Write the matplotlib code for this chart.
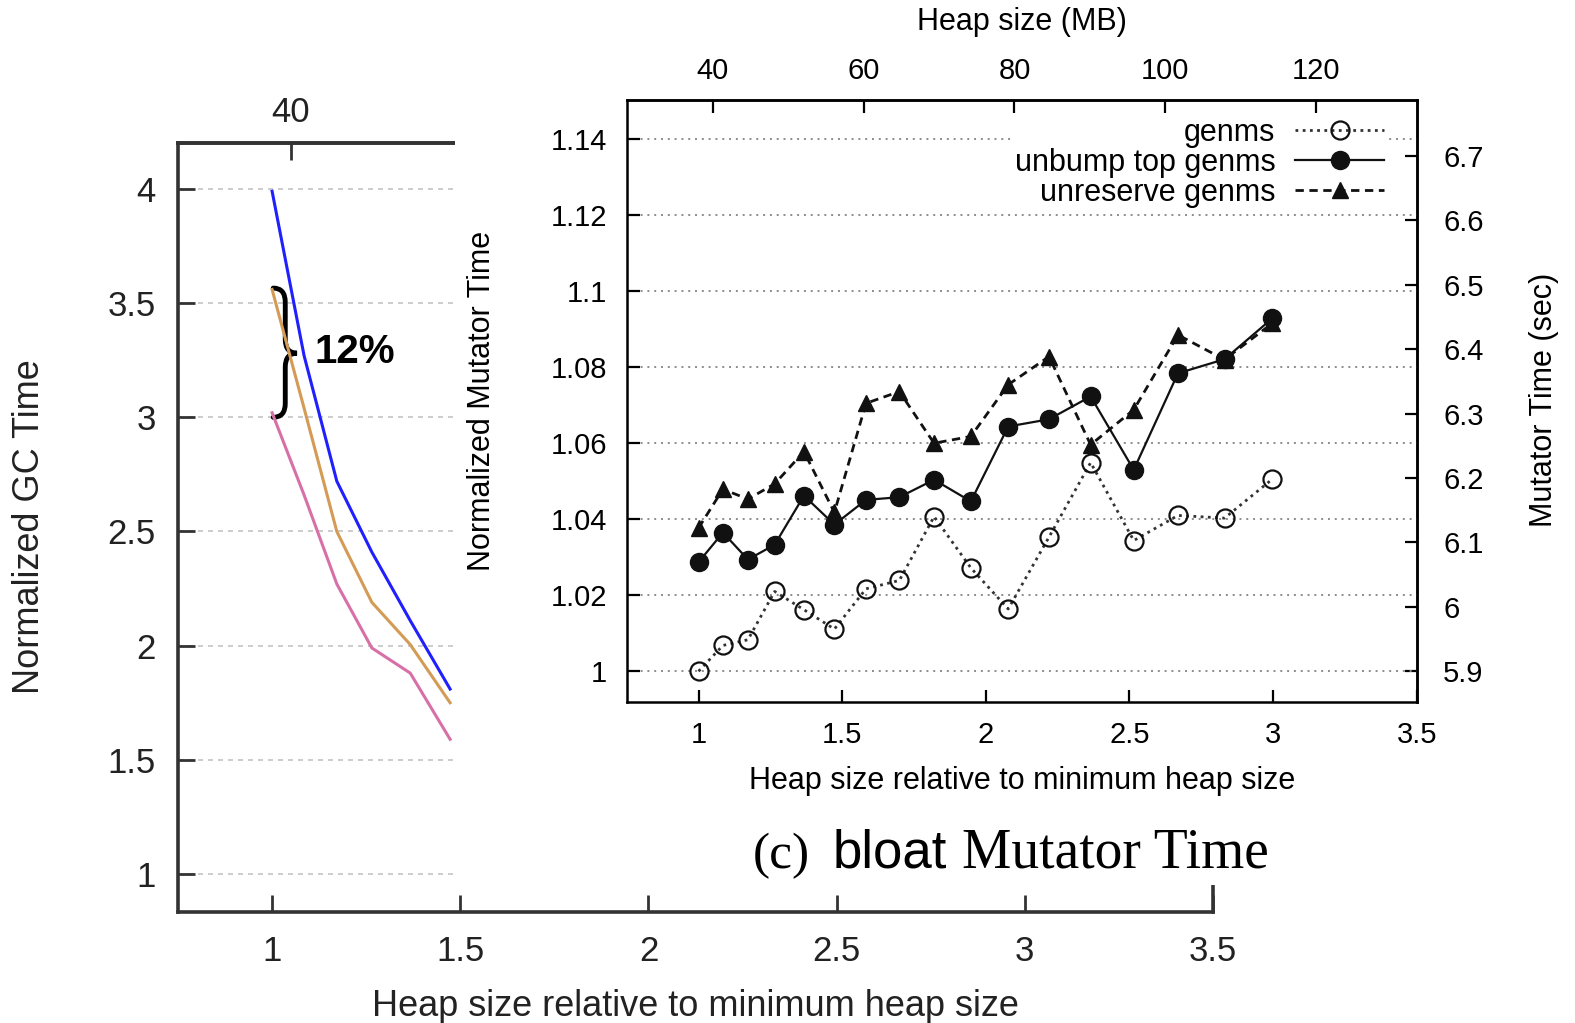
import matplotlib
matplotlib.use("Agg")
import matplotlib.pyplot as plt
from matplotlib.patches import Rectangle, PathPatch
from matplotlib.path import Path
from matplotlib.ticker import FormatStrFormatter

# heap size relative to the minimum heap size (same sample points in both charts)
heap_rel = [1.0, 1.085, 1.172, 1.265, 1.367, 1.473, 1.583, 1.699, 1.82, 1.948,
            2.078, 2.22, 2.365, 2.515, 2.669, 2.831, 2.998]

# inset chart: normalized mutator time
genms = [1.0, 1.0068, 1.0083, 1.021, 1.0162, 1.0111, 1.0217, 1.0239, 1.0407,
         1.0272, 1.0164, 1.0353, 1.0549, 1.0344, 1.041, 1.0403, 1.0506]
unbump = [1.0287, 1.0365, 1.0294, 1.0333, 1.0462, 1.0386, 1.0451, 1.0458, 1.0504,
          1.0447, 1.0644, 1.0663, 1.0723, 1.053, 1.0784, 1.0821, 1.0929]
unreserve = [1.0377, 1.0479, 1.0453, 1.0493, 1.0578, 1.0418, 1.0705, 1.0736, 1.06,
             1.0618, 1.0754, 1.0828, 1.0596, 1.0688, 1.0885, 1.082, 1.0916]
series_labels = ["genms", "unbump top genms", "unreserve genms"]

# background chart: normalized GC time (only the part left of the inset is visible)
gc_x = heap_rel[:6]
gc_blue = [3.99, 3.27, 2.72, 2.41, 2.11, 1.81]
gc_orange = [3.56, 3.04, 2.50, 2.19, 2.005, 1.75]
gc_pink = [3.02, 2.66, 2.27, 1.99, 1.88, 1.59]

min_heap_mb = 38.1      # 1.0 on the relative axis, in MB
base_mutator_sec = 5.9  # 1.0 on the normalized axis, in seconds

W, H = 1575, 1023


def fx(px):
    return px / W


def fy(py):
    return 1 - py / H


fig = plt.figure(figsize=(W / 100, H / 100), dpi=100)
plt.rcParams['font.family'] = ['Liberation Sans', 'DejaVu Sans']

# ---------------- background GC chart ----------------
ax_bg = fig.add_axes([fx(178), fy(911.7), (1213 - 178) / W, (911.7 - 143.3) / H])
ax_bg.plot(gc_x, gc_blue, color='#2020ff', lw=2.2)
ax_bg.plot(gc_x, gc_orange, color='#d39b55', lw=2.2)
ax_bg.plot(gc_x, gc_pink, color='#d870a8', lw=2.2)
ax_bg.set_xlim(0.75, 3.5)
ax_bg.set_ylim(0.835, 4.2)
ax_bg.set_xticks([1, 1.5, 2, 2.5, 3, 3.5])
ax_bg.set_yticks([1, 1.5, 2, 2.5, 3, 3.5, 4])
ax_bg.xaxis.set_major_formatter(FormatStrFormatter('%g'))
ax_bg.yaxis.set_major_formatter(FormatStrFormatter('%g'))
ax_bg.yaxis.grid(True, color='#c4c4c4', ls=(0, (3, 3)), lw=1.2)
ax_bg.set_axisbelow(True)
for s in ax_bg.spines.values():
    s.set_linewidth(2.6)
    s.set_color('#333333')
ax_bg.tick_params(direction='in', length=12, width=2, color='#333333',
                  labelsize=25, labelcolor='#222222')
ax_bg.tick_params(axis='y', pad=16)
ax_bg.tick_params(axis='x', pad=17)
top_bg = ax_bg.secondary_xaxis('top', functions=(lambda r: r * min_heap_mb,
                                                 lambda m: m / min_heap_mb))
top_bg.set_xticks([40])
top_bg.tick_params(direction='in', length=12, width=2, color='#333333',
                   labelsize=25, labelcolor='#222222', pad=10)
top_bg.spines['top'].set_linewidth(2.6)
top_bg.spines['top'].set_color('#333333')

fig.text(fx(30), fy(527), "Normalized GC Time", rotation=90, fontsize=26,
         ha='center', va='center', color='#222222')
fig.text(fx(695), fy(1006), "Heap size relative to minimum heap size", fontsize=26,
         ha='center', va='center', color='#222222')

# brace marking the 12% gap between the curves
brace = Path([(1.003, 3.566), (1.035, 3.566), (1.035, 3.504), (1.035, 3.342),
              (1.035, 3.281), (1.066, 3.281), (1.035, 3.281), (1.035, 3.219),
              (1.035, 3.061), (1.035, 3.0), (1.003, 3.0)],
             [Path.MOVETO, Path.CURVE3, Path.CURVE3, Path.LINETO,
              Path.CURVE3, Path.CURVE3, Path.CURVE3, Path.CURVE3,
              Path.LINETO, Path.CURVE3, Path.CURVE3])
ax_bg.add_patch(PathPatch(brace, fill=False, lw=3.5, ec='black', capstyle='round'))
ax_bg.text(1.114, 3.285, "12%", fontsize=29, fontweight='bold', ha='left', va='center')

# white backing of the pasted inset
fig.add_artist(Rectangle((fx(455), fy(885)), 1 - fx(455), 1 - fy(885),
                         transform=fig.transFigure, facecolor='white',
                         edgecolor='none', zorder=1))

# ---------------- inset mutator chart ----------------
ax = fig.add_axes([fx(626.7), fy(701.7), (1416.7 - 626.7) / W, (701.7 - 100) / H])
ax.set_zorder(2)
ax.plot(heap_rel, genms, ls=(0, (1, 1.6)), lw=2, color='#333333', marker='o', ms=13,
        mfc='none', mec='#111111', mew=1.6, label=series_labels[0])
ax.plot(heap_rel, unbump, ls='-', lw=1.6, color='#111111', marker='o', ms=13,
        mfc='#111111', mec='#111111', label=series_labels[1])
ax.plot(heap_rel, unreserve, ls=(0, (3, 2)), lw=2, color='#111111', marker='^', ms=12,
        mfc='#111111', mec='#111111', label=series_labels[2])
ax.set_xlim(0.75, 3.5)
ax.set_ylim(0.992, 1.1503)
ax.set_xticks([1, 1.5, 2, 2.5, 3, 3.5])
ax.set_yticks([1, 1.02, 1.04, 1.06, 1.08, 1.1, 1.12, 1.14])
ax.xaxis.set_major_formatter(FormatStrFormatter('%g'))
ax.yaxis.set_major_formatter(FormatStrFormatter('%g'))
ax.yaxis.grid(True, color='#8c8c8c', ls=(0, (1, 2.5)), lw=1.4)
ax.set_axisbelow(True)
for s in ax.spines.values():
    s.set_linewidth(1.8)
    s.set_zorder(6)
ax.tick_params(direction='in', length=9, width=1.6, labelsize=21, right=False, top=False)
ax.tick_params(axis='y', pad=14)
ax.tick_params(axis='x', pad=14)

top = ax.secondary_xaxis('top', functions=(lambda r: r * min_heap_mb,
                                           lambda m: m / min_heap_mb))
top.set_xticks([40, 60, 80, 100, 120])
top.tick_params(direction='in', length=9, width=1.6, labelsize=21, pad=11)
top.spines['top'].set_linewidth(1.8)

right = ax.secondary_yaxis('right', functions=(lambda v: v * base_mutator_sec,
                                               lambda s: s / base_mutator_sec))
right.set_yticks([5.9, 6.0, 6.1, 6.2, 6.3, 6.4, 6.5, 6.6, 6.7])
right.yaxis.set_major_formatter(FormatStrFormatter('%g'))
right.tick_params(direction='in', length=9, width=1.6, labelsize=21, pad=19)
right.spines['right'].set_linewidth(1.8)

leg = ax.legend(loc='upper right', bbox_to_anchor=(0.9625, 0.975), markerfirst=False,
                fontsize=22, frameon=True, framealpha=1, edgecolor='none',
                fancybox=False, borderpad=0.1, borderaxespad=0, handlelength=2.9,
                handletextpad=0.65, labelspacing=0.0)
leg.get_frame().set_linewidth(0)
leg.set_zorder(5)

fig.text(fx(1021.5), fy(22), "Heap size (MB)", fontsize=22, ha='center', va='center')
fig.text(fx(1022), fy(781), "Heap size relative to minimum heap size", fontsize=22,
         ha='center', va='center')
fig.text(fx(482), fy(401), "Normalized Mutator Time", fontsize=22, rotation=90,
         ha='center', va='center')
fig.text(fx(1544), fy(400), "Mutator Time (sec)", fontsize=22, rotation=90,
         ha='center', va='center')

# caption
fig.text(fx(753), fy(868), "(c)", fontsize=37, family='Liberation Serif',
         ha='left', va='baseline')
fig.text(fx(833), fy(868), "bloat", fontsize=38, family='Liberation Sans',
         ha='left', va='baseline')
fig.text(fx(962), fy(868), "Mutator Time", fontsize=40, family='Liberation Serif',
         ha='left', va='baseline')

fig.savefig("out.png", dpi=100)
